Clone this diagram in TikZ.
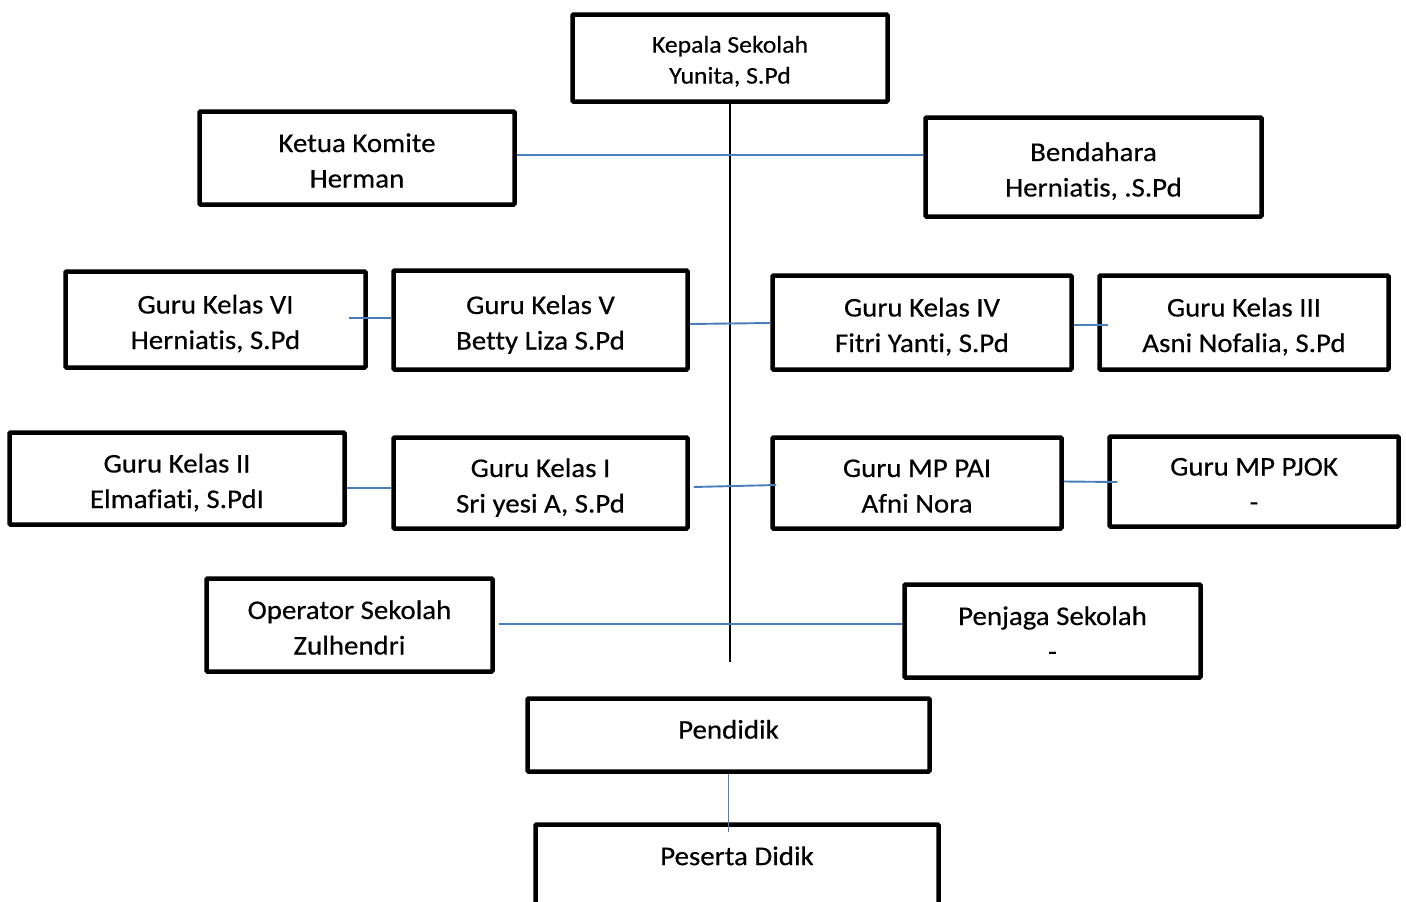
\documentclass[tikz,border=0pt]{standalone}
\usepackage{fontspec}
\setmainfont{Carlito}[FakeStretch=1.07,FakeBold=0.4,Ligatures={NoCommon}]
\usetikzlibrary{calc}
\definecolor{linkblue}{HTML}{4A7EBB}

\begin{document}
\begin{tikzpicture}[x=1pt,y=-1pt,
    box/.style={draw,line width=4.5pt,rounded corners=1pt,fill=white,align=center,inner sep=0pt,
                font=\fontsize{27}{35.5}\selectfont,text height=62pt,text depth=3pt},
    link/.style={linkblue,line width=1.9pt},
    spine/.style={black,line width=1.8pt}]

% \draw[step=100,gray,very thin] (0,0) grid (1400,900);
        \useasboundingbox (0,0) rectangle (1406,902);
        \clip (0,0) rectangle (1406,902);

        \node[box,minimum width=315pt,minimum height=87pt,font=\fontsize{24}{31}\selectfont,text height=54pt,text depth=2.8pt] (kepala) at (730,58) {Kepala Sekolah\\Yunita, S.Pd};
        \node[box,minimum width=315pt,minimum height=93pt] (komite) at (357,158) {Ketua Komite\\Herman};
        \node[box,minimum width=336pt,minimum height=99pt] (bendahara) at (1093.5,167) {Bendahara\\Herniatis, .S.Pd};

        \node[box,minimum width=300pt,minimum height=96pt] (kelasVI) at (215.5,319.5) {Guru Kelas VI\\Herniatis, S.Pd};
        \node[box,minimum width=294pt,minimum height=99pt] (kelasV) at (540.5,320) {Guru Kelas V\\Betty Liza S.Pd};
        \node[box,minimum width=299pt,minimum height=94pt] (kelasIV) at (922,322.5) {Guru Kelas IV\\Fitri Yanti, S.Pd};
        \node[box,minimum width=289pt,minimum height=94pt] (kelasIII) at (1244,322.5) {Guru Kelas III\\Asni Nofalia, S.Pd};

        \node[box,minimum width=335pt,minimum height=92pt] (kelasII) at (177,478.5) {Guru Kelas II\\Elmafiati, S.PdI};
        \node[box,minimum width=294pt,minimum height=91pt] (kelasI) at (540.5,483) {Guru Kelas I\\Sri yesi A, S.Pd};
        \node[box,minimum width=289pt,minimum height=91pt] (mpPAI) at (917,483) {Guru MP PAI\\Afni Nora};
        \node[box,minimum width=289pt,minimum height=90pt] (mpPJOK) at (1254,481.5) {Guru MP PJOK\\-};

        \node[box,minimum width=286pt,minimum height=93pt] (operator) at (349.5,625) {Operator Sekolah\\Zulhendri};
        \node[box,minimum width=296pt,minimum height=93pt] (penjaga) at (1052.5,631) {Penjaga Sekolah\\-};

        \node[box,minimum width=402pt,minimum height=73pt,text height=20pt,text depth=12.8pt] (pendidik) at (728.5,735) {Pendidik};
        \node[box,minimum width=403pt,minimum height=89pt,text height=20pt,text depth=27.8pt] (peserta) at (737,869) {Peserta Didik};

        % vertical line
        \coordinate (spineEnd) at (729,662);
        \draw[spine] (kepala.south) -- (kepala.south |- spineEnd);

        % connectors
        \draw[link] ($(komite.east)+(0,-3)$) -- ($(bendahara.west)+(0,-12)$);
        \draw[link] ($(kelasVI.east)+(-19,-1.5)$) -- ($(kelasV.west)+(0,-2)$);
        \draw[link] ($(kelasV.east)+(0,4)$) -- ($(kelasIV.west)+(0,0.5)$);
        \draw[link] ($(kelasIV.east)+(0,2.5)$) -- ($(kelasIII.west)+(11,2.5)$);
        \draw[link] ($(kelasII.east)+(0,9.5)$) -- ($(kelasI.west)+(0,5)$);
        \draw[link] ($(kelasI.east)+(4,4)$) -- ($(mpPAI.west)+(6,2)$);
        \draw[link] ($(mpPAI.east)+(0,-1.5)$) -- ($(mpPJOK.west)+(10,0.5)$);
        \draw[link] ($(operator.east)+(4,-1)$) -- ($(penjaga.west)+(0,-7)$);
        \coordinate (pesertaTop) at ($(peserta.north)+(-8.5,10)$);
        \draw[link] (pendidik.south) -- (pesertaTop);

\end{tikzpicture}
\end{document}
